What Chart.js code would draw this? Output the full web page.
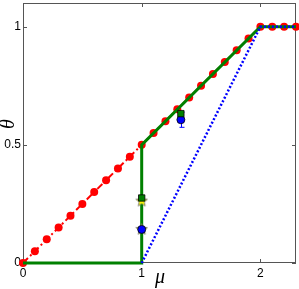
<!DOCTYPE html>
<html>
<head>
<meta charset="utf-8">
<script src="https://cdn.jsdelivr.net/npm/chart.js@4/dist/chart.umd.min.js"></script>
<style>
html, body { margin: 0; padding: 0; background: #fff; }
</style>
</head>
<body>
<canvas id="c" width="299" height="289"></canvas>
<script>
// red dash-dot curve with circle markers
const muRed = [0, 0.1, 0.2, 0.3, 0.4, 0.5, 0.6, 0.7, 0.8, 0.9, 1.0, 1.1, 1.2, 1.3, 1.4, 1.5, 1.6, 1.7, 1.8, 1.9, 2.0, 2.1, 2.2, 2.3];
const thetaRed = [0, 0.05, 0.1, 0.15, 0.2, 0.25, 0.3, 0.35, 0.4, 0.45, 0.5, 0.55, 0.6, 0.65, 0.7, 0.75, 0.8, 0.85, 0.9, 0.95, 1, 1, 1, 1];
// green solid curve
const muGreen = [0, 1, 1, 2, 2.3];
const thetaGreen = [0, 0, 0.5, 1, 1];
// blue dotted curve
const muBlue = [1, 2, 2.3];
const thetaBlue = [0, 1, 1];
// simulation points
const muSquare = [1, 1.33];
const thetaSquare = [0.275, 0.632];
const muStar = [1, 1];
const thetaStar = [0.262, 0.142];
const muDisc = [1, 1.33];
const thetaDisc = [0.142, 0.606];
const errLow = [0.142, 0.574];
const errHigh = [0.142, 0.638];
// ticks
const xTicks = [0, 1, 2];
const yTicks = [0, 0.5, 1];

function pts(xs, ys) { return xs.map((x, i) => ({ x: x, y: ys[i] })); }

// filled star marker
const star = document.createElement('canvas');
star.width = 13; star.height = 13;
(function () {
  const g = star.getContext('2d');
  g.beginPath();
  for (let i = 0; i < 10; i++) {
    const r = i % 2 ? 2.6 : 6;
    const a = -Math.PI / 2 + i * Math.PI / 5;
    g.lineTo(6.5 + r * Math.cos(a), 6.5 + r * Math.sin(a));
  }
  g.closePath();
  g.fillStyle = '#ffff00';
  g.fill();
  g.strokeStyle = '#666';
  g.lineWidth = 0.8;
  g.stroke();
})();

const frame = {
  id: 'frame',
  beforeDatasetsDraw(chart) {
    const ctx = chart.ctx, xs = chart.scales.x, ys = chart.scales.y;
    ctx.save();
    ctx.strokeStyle = '#0000ff';
    ctx.lineWidth = 1;
    muDisc.forEach((m, i) => {
      if (errHigh[i] === errLow[i]) return;
      const px = Math.round(xs.getPixelForValue(m)) + 0.5;
      const y1 = ys.getPixelForValue(errLow[i]), y2 = ys.getPixelForValue(errHigh[i]);
      ctx.beginPath();
      ctx.moveTo(px, y1); ctx.lineTo(px, y2);
      ctx.moveTo(px - 2, y1); ctx.lineTo(px + 3, y1);
      ctx.moveTo(px - 2, y2); ctx.lineTo(px + 3, y2);
      ctx.stroke();
    });
    ctx.restore();
  },
  beforeDraw(chart) {
    const ctx = chart.ctx, a = chart.chartArea, xs = chart.scales.x, ys = chart.scales.y;
    ctx.save();
    ctx.strokeStyle = '#555';
    ctx.lineWidth = 1;
    ctx.strokeRect(Math.round(a.left) + 0.5, Math.round(a.top) + 0.5, Math.round(a.right - a.left) - 1, Math.round(a.bottom - a.top) - 1);
    ctx.beginPath();
    xTicks.forEach(v => {
      const px = Math.round(xs.getPixelForValue(v)) + 0.5;
      ctx.moveTo(px, a.bottom); ctx.lineTo(px, a.bottom - 4);
      ctx.moveTo(px, a.top); ctx.lineTo(px, a.top + 4);
    });
    yTicks.forEach(v => {
      const py = Math.round(ys.getPixelForValue(v)) + 0.5;
      ctx.moveTo(a.left, py); ctx.lineTo(a.left + 4, py);
      ctx.moveTo(a.right, py); ctx.lineTo(a.right - 4, py);
    });
    ctx.stroke();
    // axis titles
    ctx.fillStyle = '#000';
    ctx.font = 'italic 20px "Liberation Serif"';
    ctx.textAlign = 'center';
    ctx.textBaseline = 'middle';
    ctx.fillText('\u03bc', 160, 278);
    ctx.translate(9, 124);
    ctx.rotate(-Math.PI / 2);
    ctx.fillText('\u03b8', 0, 0);
    ctx.restore();
  }
};

new Chart(document.getElementById('c'), {
  type: 'scatter',
  data: {
    datasets: [
      {
        data: pts(muRed, thetaRed), showLine: true, order: 6, clip: false,
        borderColor: '#ff0000', borderWidth: 2, borderDash: [7, 3, 2, 3],
        pointRadius: 4, pointBackgroundColor: '#ff0000', pointBorderColor: '#ff0000', pointBorderWidth: 0
      },
      {
        data: pts(muGreen, thetaGreen), showLine: true, order: 5, clip: false,
        borderColor: '#008000', borderWidth: 3, pointRadius: 0
      },
      {
        data: pts(muBlue, thetaBlue), showLine: true, order: 4, clip: false,
        borderColor: '#0000ff', borderWidth: 2.5, borderDash: [2, 2], pointRadius: 0
      },
      {
        data: pts(muStar, thetaStar), order: 3, pointStyle: star, pointRadius: 6
      },
      {
        data: pts(muDisc, thetaDisc), order: 2, pointStyle: 'circle', pointRadius: 4,
        pointBackgroundColor: '#0000ff', pointBorderColor: '#000', pointBorderWidth: 0.8
      },
      {
        data: pts(muSquare, thetaSquare), order: 1, pointStyle: 'rect', pointRadius: 4.5,
        pointBackgroundColor: '#008000', pointBorderColor: '#000', pointBorderWidth: 0.8
      }
    ]
  },
  options: {
    responsive: false,
    devicePixelRatio: 1,
    animation: false,
    layout: { autoPadding: false, padding: { top: 3, right: 3, left: 0, bottom: 0 } },
    plugins: { legend: { display: false }, tooltip: { enabled: false } },
    scales: {
      x: {
        type: 'linear', min: 0, max: 2.3,
        grid: { display: false, drawTicks: false }, border: { display: false },
        afterBuildTicks: s => { s.ticks = xTicks.map(v => ({ value: v })); },
        afterFit: s => { s.height = 26; s.paddingLeft = 0; s.paddingRight = 0; },
        ticks: { padding: 3, color: '#000', font: { family: 'Liberation Sans', size: 12 }, maxRotation: 0, callback: v => String(v) }
      },
      y: {
        type: 'linear', min: 0, max: 1.1,
        grid: { display: false, drawTicks: false }, border: { display: false },
        afterBuildTicks: s => { s.ticks = yTicks.map(v => ({ value: v })); },
        afterFit: s => { s.width = 23; s.paddingTop = 0; s.paddingBottom = 0; },
        ticks: { padding: 2, color: '#000', font: { family: 'Liberation Sans', size: 12 }, callback: v => String(v) }
      }
    }
  },
  plugins: [frame]
});
</script>
</body>
</html>
